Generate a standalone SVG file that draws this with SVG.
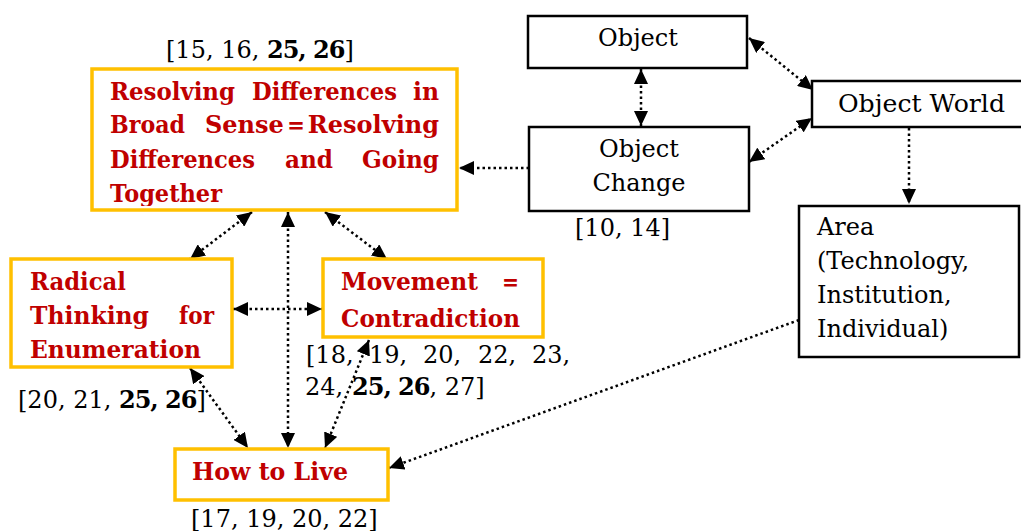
<svg xmlns="http://www.w3.org/2000/svg" width="1021" height="531" viewBox="0 0 1021 531">
<style>
.ob{fill:#fff;stroke:#FFC000;stroke-width:3.5}
.bk{fill:#fff;stroke:#000;stroke-width:2.5}
.rt{font-family:"DejaVu Serif","Liberation Serif",serif;font-weight:bold;font-size:25px;fill:#C00000}
.kt{font-family:"DejaVu Serif","Liberation Serif",serif;font-size:24px;fill:#000}
.b{font-weight:bold;letter-spacing:-1px}
.cn{fill:none;stroke:#000;stroke-width:2.5;stroke-dasharray:2.5 3}
</style>
<defs>
<marker id="ah" markerUnits="userSpaceOnUse" markerWidth="15" markerHeight="14" refX="15" refY="7" orient="auto-start-reverse">
<path d="M0,0 L15,7 L0,14 z" fill="#000"/>
</marker>
<clipPath id="clipR"><rect x="92" y="69" width="365" height="137"/></clipPath>
</defs>
<rect width="1021" height="531" fill="#fff"/>

<g id="connectors">
<line class="cn" x1="252" y1="212" x2="190" y2="259" marker-start="url(#ah)" marker-end="url(#ah)"/>
<line class="cn" x1="288" y1="212" x2="288" y2="448" marker-start="url(#ah)" marker-end="url(#ah)"/>
<line class="cn" x1="325" y1="212" x2="387" y2="259" marker-start="url(#ah)" marker-end="url(#ah)"/>
<line class="cn" x1="233" y1="309" x2="322" y2="309" marker-start="url(#ah)" marker-end="url(#ah)"/>
<line class="cn" x1="190" y1="368" x2="248" y2="448" marker-start="url(#ah)" marker-end="url(#ah)"/>
<line class="cn" x1="369" y1="340" x2="325" y2="448" marker-start="url(#ah)" marker-end="url(#ah)"/>
<line class="cn" x1="799" y1="320" x2="389" y2="468" marker-end="url(#ah)"/>
<line class="cn" x1="641" y1="69" x2="641" y2="126" marker-start="url(#ah)" marker-end="url(#ah)"/>
<line class="cn" x1="749" y1="38" x2="813" y2="90" marker-start="url(#ah)" marker-end="url(#ah)"/>
<line class="cn" x1="749" y1="162" x2="812" y2="118" marker-start="url(#ah)" marker-end="url(#ah)"/>
<line class="cn" x1="909" y1="128" x2="909" y2="204" marker-end="url(#ah)"/>
<line class="cn" x1="529" y1="168" x2="459" y2="168" marker-end="url(#ah)"/>
</g>

<g id="resolving">
<rect class="ob" x="92" y="69" width="365" height="141"/>
<g clip-path="url(#clipR)">
<text class="rt" y="100"><tspan x="110" textLength="125" lengthAdjust="spacingAndGlyphs">Resolving</tspan><tspan x="252" textLength="145" lengthAdjust="spacingAndGlyphs">Differences</tspan><tspan x="413" textLength="26" lengthAdjust="spacingAndGlyphs">in</tspan></text>
<text class="rt" y="133"><tspan x="110" textLength="75" lengthAdjust="spacingAndGlyphs">Broad</tspan><tspan x="205" textLength="234" lengthAdjust="spacingAndGlyphs">Sense＝Resolving</tspan></text>
<text class="rt" y="168"><tspan x="110" textLength="145" lengthAdjust="spacingAndGlyphs">Differences</tspan><tspan x="285" textLength="48" lengthAdjust="spacingAndGlyphs">and</tspan><tspan x="362" textLength="77" lengthAdjust="spacingAndGlyphs">Going</tspan></text>
<text class="rt" y="202"><tspan x="110" textLength="112" lengthAdjust="spacingAndGlyphs">Together</tspan></text>
</g>
<text class="kt" x="166" y="58">[15, 16, <tspan class="b">25, 26</tspan>]</text>
</g>

<g id="radical">
<rect class="ob" x="11" y="259" width="221" height="108"/>
<text class="rt" y="290"><tspan x="30" textLength="96" lengthAdjust="spacingAndGlyphs">Radical</tspan></text>
<text class="rt" y="324"><tspan x="30" textLength="119" lengthAdjust="spacingAndGlyphs">Thinking</tspan><tspan x="179" textLength="35" lengthAdjust="spacingAndGlyphs">for</tspan></text>
<text class="rt" y="358"><tspan x="30" textLength="171" lengthAdjust="spacingAndGlyphs">Enumeration</tspan></text>
<text class="kt" x="18" y="408">[20, 21, <tspan class="b">25, 26</tspan>]</text>
</g>

<g id="movement">
<rect class="ob" x="323" y="259" width="220" height="78"/>
<text class="rt" y="290"><tspan x="341" textLength="137" lengthAdjust="spacingAndGlyphs">Movement</tspan><tspan x="499" textLength="23" lengthAdjust="spacingAndGlyphs">＝</tspan></text>
<text class="rt" y="327"><tspan x="341" textLength="179" lengthAdjust="spacingAndGlyphs">Contradiction</tspan></text>
<text class="kt" y="363"><tspan x="306">[18,</tspan><tspan x="369">19,</tspan><tspan x="423">20,</tspan><tspan x="478">22,</tspan><tspan x="532">23,</tspan></text>
<text class="kt" y="395"><tspan x="305">24,</tspan><tspan class="b" x="352">25, 26</tspan>, 27]</text>
</g>

<g id="howtolive">
<rect class="ob" x="175" y="449" width="213" height="51"/>
<text class="rt" y="480"><tspan x="192" textLength="156" lengthAdjust="spacingAndGlyphs">How to Live</tspan></text>
<text class="kt" x="191" y="527">[17, 19, 20, 22]</text>
</g>

<g id="object">
<rect class="bk" x="528" y="16" width="219" height="52"/>
<text class="kt" x="638" y="46" text-anchor="middle">Object</text>
</g>

<g id="objectchange">
<rect class="bk" x="529" y="127" width="220" height="84"/>
<text class="kt" x="639" y="157" text-anchor="middle">Object</text>
<text class="kt" x="639" y="191" text-anchor="middle">Change</text>
<text class="kt" x="575" y="236">[10, 14]</text>
</g>

<g id="objectworld">
<rect class="bk" x="812" y="81" width="215" height="46"/>
<text class="kt" x="838" y="112" textLength="167" lengthAdjust="spacingAndGlyphs">Object World</text>
</g>

<g id="area">
<rect class="bk" x="799" y="206" width="220" height="151"/>
<text class="kt" x="817" y="235">Area</text>
<text class="kt" x="817" y="269">(Technology,</text>
<text class="kt" x="817" y="303">Institution,</text>
<text class="kt" x="817" y="337">Individual)</text>
</g>
</svg>
